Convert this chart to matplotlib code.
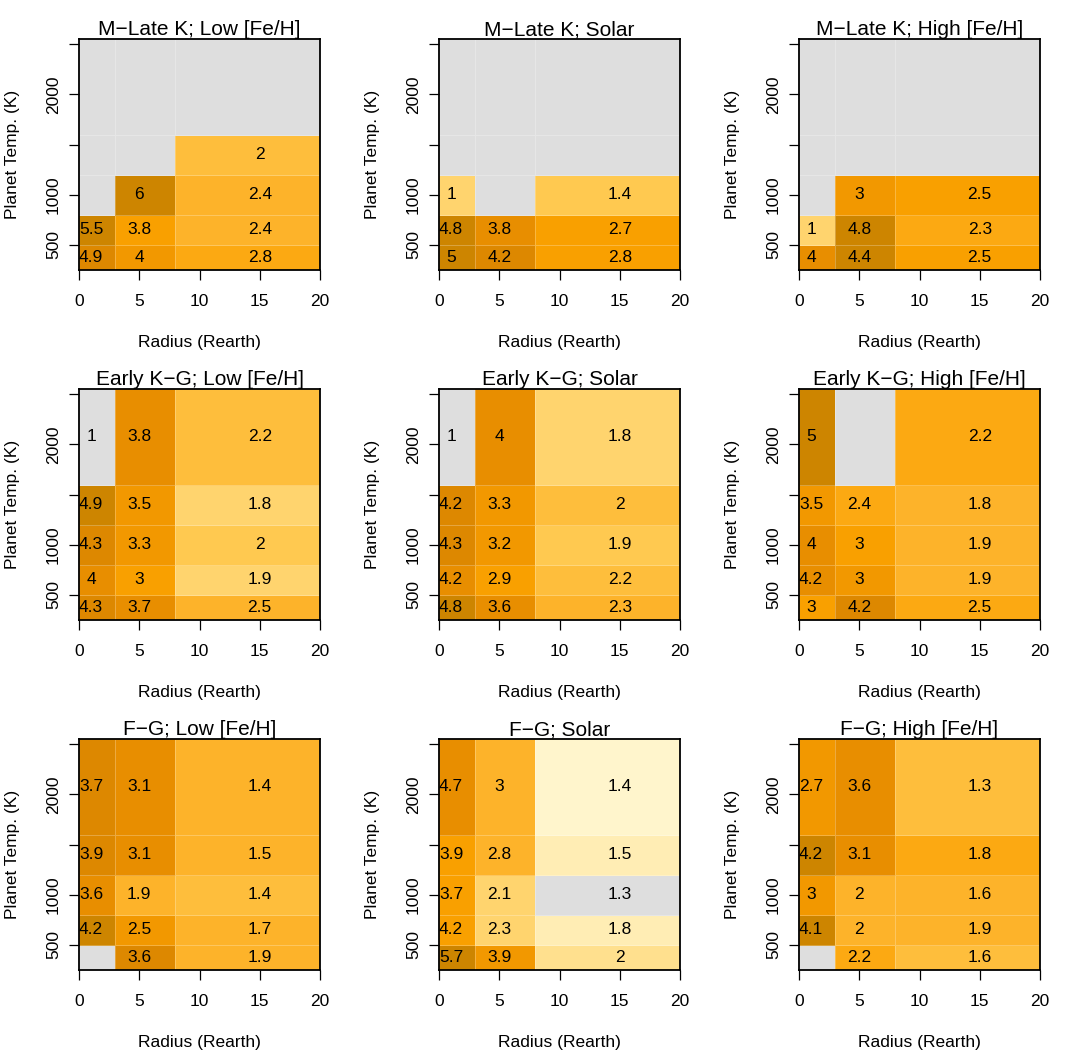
import matplotlib

matplotlib.use("Agg")
import matplotlib.pyplot as plt
import numpy as np
from matplotlib.colors import BoundaryNorm, ListedColormap

plt.rcParams["font.family"] = ["Liberation Sans", "DejaVu Sans"]

nan = np.nan

# bin edges of the grid
radius_edges = [0, 3, 8, 20]
temp_edges = [250, 500, 800, 1200, 1600, 2550]

star_types = ["M\u2212Late K", "Early K\u2212G", "F\u2212G"]
metallicities = ["Low [Fe/H]", "Solar", "High [Fe/H]"]

# cell numbers, rows from coolest bin upward, columns small/medium/large radius
mlk_low = [[4.9, 4, 2.8], [5.5, 3.8, 2.4], [nan, 6, 2.4], [nan, nan, 2], [nan, nan, nan]]
mlk_solar = [[5, 4.2, 2.8], [4.8, 3.8, 2.7], [1, nan, 1.4], [nan, nan, nan], [nan, nan, nan]]
mlk_high = [[4, 4.4, 2.5], [1, 4.8, 2.3], [nan, 3, 2.5], [nan, nan, nan], [nan, nan, nan]]
ekg_low = [[4.3, 3.7, 2.5], [4, 3, 1.9], [4.3, 3.3, 2], [4.9, 3.5, 1.8], [1, 3.8, 2.2]]
ekg_solar = [[4.8, 3.6, 2.3], [4.2, 2.9, 2.2], [4.3, 3.2, 1.9], [4.2, 3.3, 2], [1, 4, 1.8]]
ekg_high = [[3, 4.2, 2.5], [4.2, 3, 1.9], [4, 3, 1.9], [3.5, 2.4, 1.8], [5, nan, 2.2]]
fg_low = [[nan, 3.6, 1.9], [4.2, 2.5, 1.7], [3.6, 1.9, 1.4], [3.9, 3.1, 1.5], [3.7, 3.1, 1.4]]
fg_solar = [[5.7, 3.9, 2], [4.2, 2.3, 1.8], [3.7, 2.1, 1.3], [3.9, 2.8, 1.5], [4.7, 3, 1.4]]
fg_high = [[nan, 2.2, 1.6], [4.1, 2, 1.9], [3, 2, 1.6], [4.2, 3.1, 1.8], [2.7, 3.6, 1.3]]

# colour level of each cell (1 = palest ... 13 = darkest, nan = grey)
mlk_low_level = [[12, 10, 8], [13, 9, 7], [nan, 13, 7], [nan, nan, 6], [nan, nan, nan]]
mlk_solar_level = [[13, 12, 9], [13, 11, 9], [4, nan, 5], [nan, nan, nan], [nan, nan, nan]]
mlk_high_level = [[11, 13, 9], [4, 13, 8], [nan, 10, 9], [nan, nan, nan], [nan, nan, nan]]
ekg_low_level = [[12, 11, 7], [11, 9, 4], [12, 10, 5], [13, 10, 4], [nan, 11, 6]]
ekg_solar_level = [[13, 11, 7], [11, 9, 6], [12, 10, 5], [12, 10, 6], [nan, 11, 4]]
ekg_high_level = [[9, 12, 8], [11, 10, 7], [11, 9, 7], [10, 8, 7], [13, nan, 8]]
fg_low_level = [[nan, 12, 7], [13, 10, 7], [11, 7, 6], [12, 11, 7], [12, 11, 7]]
fg_solar_level = [[13, 10, 3], [9, 4, 2], [9, 4, nan], [9, 7, 2], [11, 7, 1]]
fg_high_level = [[nan, 8, 6], [13, 7, 7], [10, 7, 7], [13, 11, 8], [10, 11, 6]]

panel_values = [
    [mlk_low, mlk_solar, mlk_high],
    [ekg_low, ekg_solar, ekg_high],
    [fg_low, fg_solar, fg_high],
]
panel_levels = [
    [mlk_low_level, mlk_solar_level, mlk_high_level],
    [ekg_low_level, ekg_solar_level, ekg_high_level],
    [fg_low_level, fg_solar_level, fg_high_level],
]

PALETTE = [
    "#FFF5CC", "#FFEDB4", "#FFE08E", "#FFD46E", "#FFC950", "#FEBE3C", "#FDB32A",
    "#FCA912", "#F9A000", "#F29800", "#E88E00", "#DD8800", "#CD8500",
]
GREY = "#DEDEDE"
LABEL_X = [1, 5, 15]

W, H = 1080, 1050
COL_LEFT = [79, 439, 799]
ROW_TOP = [39.3, 389.3, 739.3]
AX_W, AX_H = 241, 230.7
FS = 12.5


def draw_panel(ax, values, levels, title, cmap, norm) -> None:
    lev = np.ma.masked_invalid(np.array(levels, dtype=float))
    ax.set_facecolor(GREY)
    ax.pcolormesh(
        radius_edges, temp_edges, lev, cmap=cmap, norm=norm,
        edgecolors=(1, 1, 1, 0.25), linewidth=0.6,
    )
    centers = [(a + b) / 2 for a, b in zip(temp_edges[:-1], temp_edges[1:])]
    for i, row in enumerate(values):
        for j, v in enumerate(row):
            if np.isnan(v):
                continue
            ax.text(LABEL_X[j], centers[i], f"{v:g}", ha="center", va="center", fontsize=FS)

    ax.set_xlim(radius_edges[0], radius_edges[-1])
    ax.set_ylim(temp_edges[0], temp_edges[-1])
    ax.set_xticks([0, 5, 10, 15, 20])
    ax.set_yticks([500, 1000, 1500, 2000, 2500])
    ax.set_yticklabels(["500", "1000", "", "2000", ""], rotation=90, va="center")
    ax.tick_params(direction="out", length=7, width=0.9, labelsize=FS)
    ax.tick_params(axis="x", pad=10)
    ax.tick_params(axis="y", pad=6)
    for spine in ax.spines.values():
        spine.set_linewidth(1.3)
    ax.set_title(title, fontsize=15, pad=1.5)
    ax.set_xlabel("Radius (Rearth)", fontsize=FS)
    ax.xaxis.set_label_coords(0.5, -0.28)
    ax.set_ylabel("Planet Temp. (K)", fontsize=FS)
    ax.yaxis.set_label_coords(-0.245, 0.5)


def main() -> None:
    cmap = ListedColormap(PALETTE)
    cmap.set_bad(GREY)
    norm = BoundaryNorm(np.arange(0.5, len(PALETTE) + 1.5), cmap.N)

    fig = plt.figure(figsize=(W / 100, H / 100), dpi=100)
    for r, star in enumerate(star_types):
        for c, feh in enumerate(metallicities):
            ax = fig.add_axes([
                COL_LEFT[c] / W,
                1 - (ROW_TOP[r] + AX_H) / H,
                AX_W / W,
                AX_H / H,
            ])
            draw_panel(ax, panel_values[r][c], panel_levels[r][c], f"{star}; {feh}", cmap, norm)

    fig.savefig("out.png", dpi=100)
    plt.close(fig)


if __name__ == "__main__":
    main()
